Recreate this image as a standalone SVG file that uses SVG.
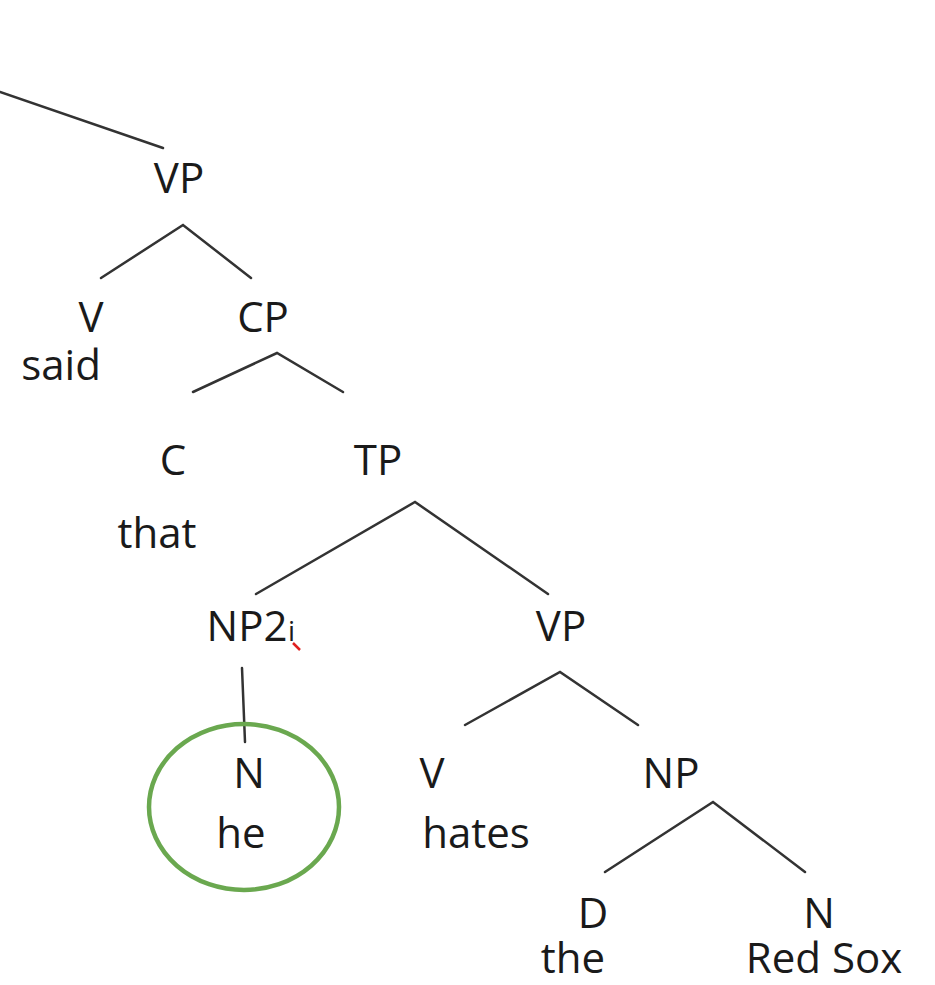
<svg xmlns="http://www.w3.org/2000/svg" width="935" height="985" viewBox="0 0 935 985">
<style>
text{font-family:"Open Sans","Noto Sans","Liberation Sans",sans-serif;font-size:42px;fill:#1a1a1a;text-anchor:middle}
.sub{font-size:28px;text-anchor:start}
.e{stroke:#333;stroke-width:2.5;fill:none;stroke-linecap:round}
</style>
<rect width="935" height="985" fill="#fff"/>
<g id="connectors">
<line class="e" x1="0" y1="92" x2="163" y2="148"/>
<polyline class="e" points="101,278 183,225 251,278"/>
<polyline class="e" points="193,392 277,353 343,392"/>
<polyline class="e" points="256,594 415,502 548,594"/>
<line class="e" x1="242" y1="668" x2="245" y2="742"/>
<polyline class="e" points="465,725 560,672 638,725"/>
<polyline class="e" points="605,872 713,802 805,872"/>
</g>
<g id="highlight">
<ellipse cx="244" cy="807" rx="95" ry="83" fill="none" stroke="#6aa84f" stroke-width="4.5"/>
<path d="M293,643 L300,650" stroke="#e02020" stroke-width="2.5" fill="none"/>
</g>
<g id="vp1"><text x="179" y="193">VP</text></g>
<g id="v1"><text x="91" y="332">V</text><text x="61" y="380">said</text></g>
<g id="cp"><text x="263" y="332">CP</text></g>
<g id="c"><text x="173" y="475">C</text><text x="157" y="548">that</text></g>
<g id="tp"><text x="378" y="475">TP</text></g>
<g id="np2"><text x="247" y="641">NP2</text><text class="sub" x="288" y="641">i</text></g>
<g id="vp2"><text x="561" y="641">VP</text></g>
<g id="n1"><text x="249" y="788">N</text><text x="241" y="848">he</text></g>
<g id="v2"><text x="432" y="788">V</text><text x="476" y="848">hates</text></g>
<g id="np"><text x="671" y="788">NP</text></g>
<g id="d"><text x="593" y="928">D</text><text x="573" y="973">the</text></g>
<g id="n2"><text x="819" y="928">N</text><text x="824" y="973">Red Sox</text></g>
</svg>
